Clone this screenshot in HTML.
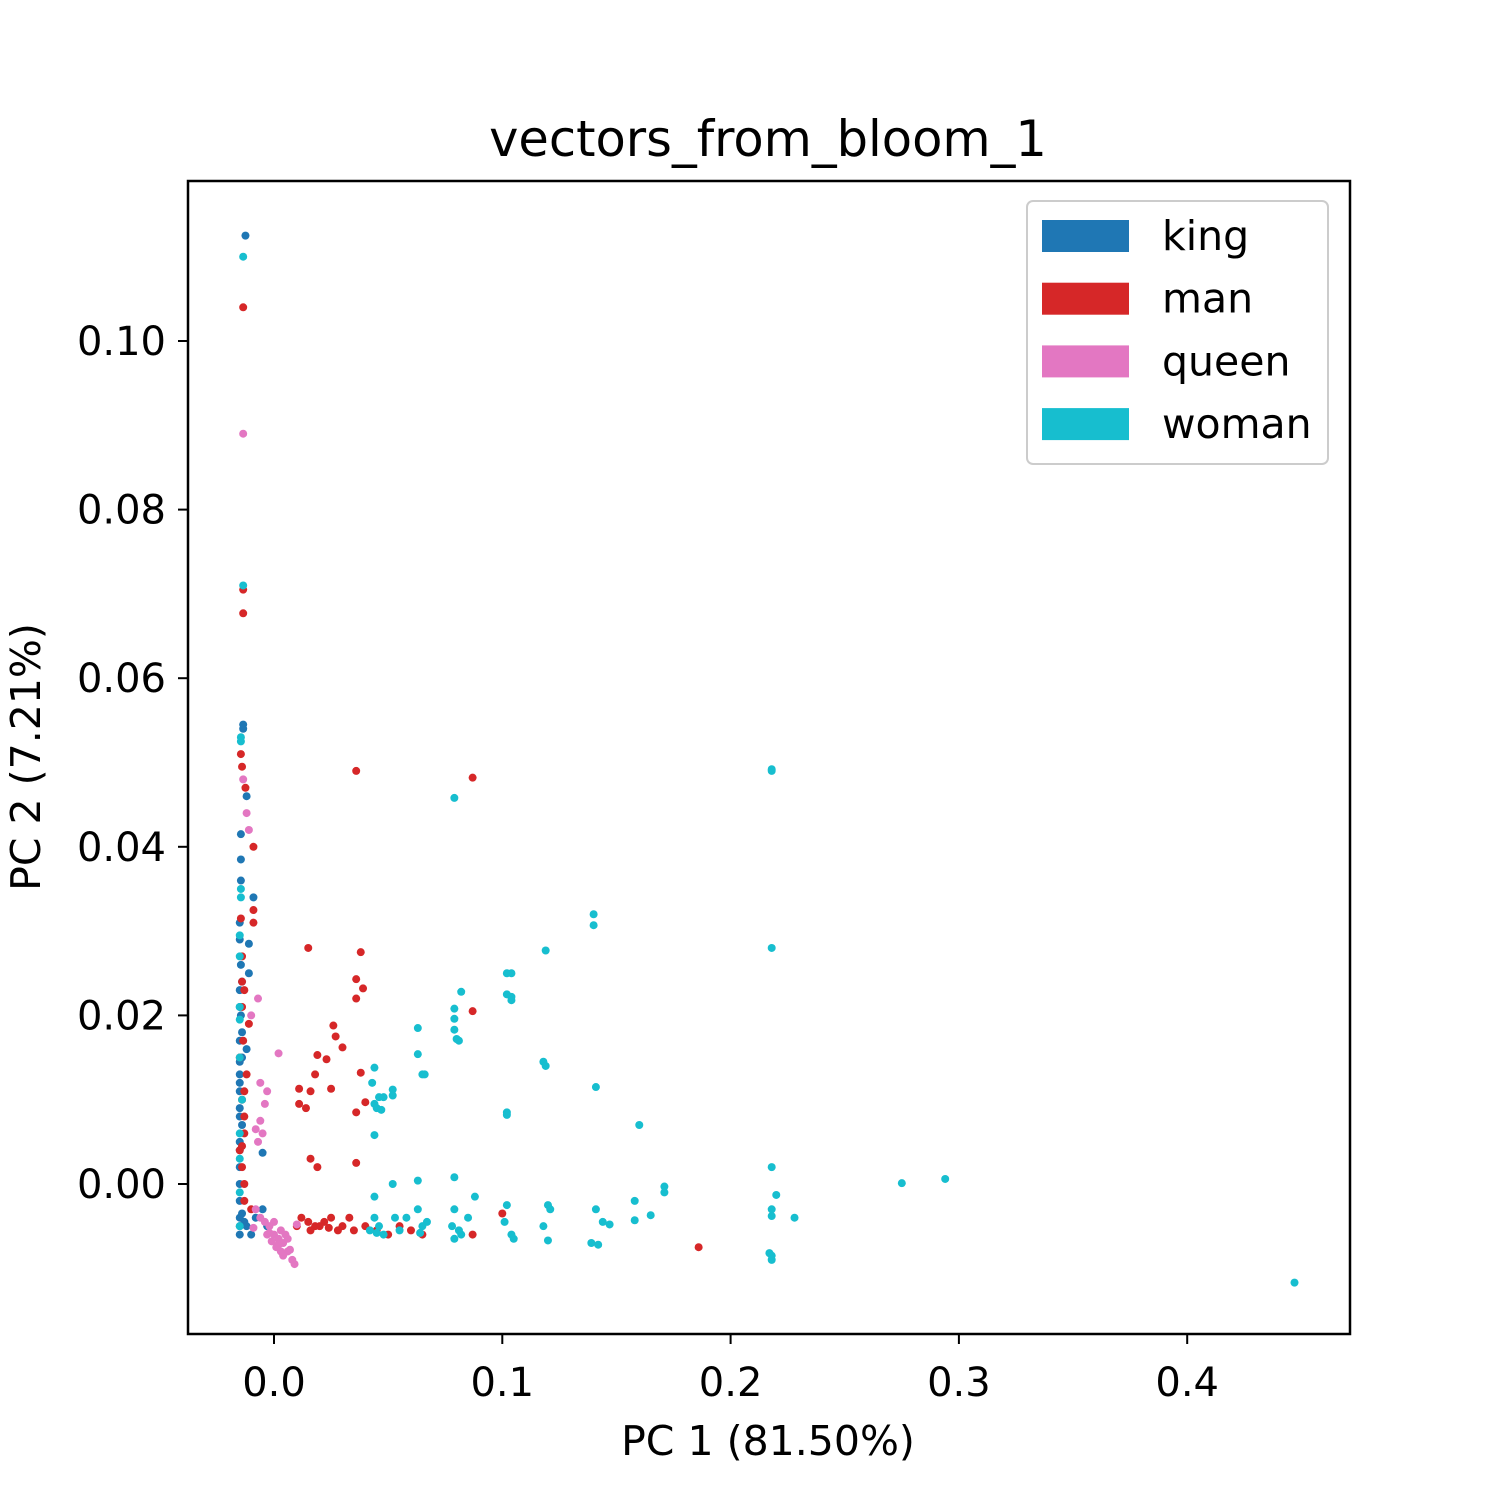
<!DOCTYPE html>
<html><head><meta charset="utf-8">
<style>html,body{margin:0;padding:0;background:#fff}svg{display:block;font-family:"DejaVu Sans","Liberation Sans",sans-serif}</style>
</head><body>
<svg id="chart" width="1500" height="1500" viewBox="0 0 1500 1500">
<rect x="0" y="0" width="1500" height="1500" fill="#fff"/>
<text x="768" y="156" font-size="49.5" text-anchor="middle">vectors_from_bloom_1</text>
<g id="marks"></g>
<rect x="188" y="181" width="1162" height="1153" fill="none" stroke="#000" stroke-width="2.5"/>
<g id="xticks"></g>
<g id="yticks"></g>
<text x="768" y="1455" font-size="41" text-anchor="middle">PC 1 (81.50%)</text>
<text transform="translate(40,757) rotate(-90)" font-size="41" text-anchor="middle">PC 2 (7.21%)</text>
<g>
<rect x="1027" y="201" width="301" height="263" rx="6" fill="#fff" stroke="#ccc" stroke-width="2"/>
<g id="legend-items"></g>
</g>
</svg>
<script>
const seriesNames = ["king","man","queen","woman"];
const seriesColors = ["#1f77b4","#d62728","#e377c2","#17becf"];
const xTicks = [0.0,0.1,0.2,0.3,0.4];
const xTickLabels = ["0.0","0.1","0.2","0.3","0.4"];
const yTicks = [0.00,0.02,0.04,0.06,0.08,0.10];
const yTickLabels = ["0.00","0.02","0.04","0.06","0.08","0.10"];
const kingPts = [[-0.0125,0.1125],[-0.0135,0.0545],[-0.0135,0.054],[-0.012,0.046],[-0.0145,0.0415],[-0.0145,0.0385],[-0.0145,0.036],[-0.009,0.034],[-0.011,0.0285],[-0.0145,0.026],[-0.011,0.025],[-0.015,0.023],[-0.0145,0.02],[-0.015,0.017],[-0.012,0.016],[-0.015,0.013],[-0.015,0.011],[-0.015,0.008],[-0.015,0.005],[-0.015,0.002],[-0.005,0.0037],[-0.015,-0.002],[-0.015,-0.004],[-0.012,-0.005],[-0.008,-0.004],[-0.005,-0.003],[-0.010,-0.006],[-0.015,-0.006],[-0.014,-0.0035],[-0.015,0.029],[-0.014,0.018],[-0.015,0.009],[-0.015,-0.005],[-0.013,-0.0045],[-0.003,-0.005],[-0.015,0.021],[-0.014,0.015],[-0.015,0.012],[-0.014,0.007],[-0.015,0.004],[-0.015,0.000],[-0.014,0.024],[-0.015,0.031],[-0.015,0.0145]];
const manPts = [[-0.0135,0.104],[-0.0135,0.0705],[-0.0135,0.0677],[-0.0145,0.051],[-0.014,0.0495],[-0.0125,0.047],[-0.009,0.040],[-0.0145,0.0315],[-0.009,0.0325],[-0.009,0.031],[-0.014,0.024],[-0.013,0.023],[-0.011,0.019],[-0.0135,0.017],[-0.012,0.013],[-0.014,0.01],[-0.013,0.008],[-0.015,0.004],[-0.014,0.002],[-0.013,0.000],[-0.01,-0.003],[-0.014,0.027],[-0.015,0.015],[-0.013,0.006],[-0.014,0.021],[-0.013,0.011],[-0.014,0.0045],[-0.013,-0.002],[0.01,-0.005],[0.015,-0.0045],[0.02,-0.005],[0.025,-0.004],[0.03,-0.005],[0.035,-0.0055],[0.04,-0.005],[0.05,-0.006],[0.055,-0.005],[0.065,-0.006],[0.087,-0.006],[0.1,-0.0035],[0.186,-0.0075],[0.012,-0.004],[0.018,-0.005],[0.022,-0.0045],[0.028,-0.0055],[0.033,-0.004],[0.045,-0.0055],[0.06,-0.0055],[0.016,-0.0055],[0.024,-0.0052],[0.036,0.049],[0.087,0.0482],[0.015,0.028],[0.038,0.0275],[0.036,0.0243],[0.039,0.0232],[0.036,0.022],[0.087,0.0205],[0.026,0.0188],[0.027,0.0175],[0.03,0.0162],[0.019,0.0153],[0.023,0.0148],[0.018,0.013],[0.011,0.0113],[0.016,0.011],[0.025,0.0113],[0.038,0.0132],[0.040,0.0097],[0.036,0.0085],[0.011,0.0095],[0.014,0.009],[0.016,0.003],[0.019,0.002],[0.036,0.0025]];
const queenPts = [[-0.0135,0.089],[-0.0135,0.048],[-0.012,0.044],[-0.011,0.042],[-0.007,0.022],[-0.01,0.020],[0.002,0.0155],[-0.006,0.012],[-0.003,0.011],[-0.004,0.0095],[-0.006,0.0075],[-0.005,0.006],[-0.007,0.005],[-0.008,0.0065],[-0.008,-0.003],[-0.006,-0.004],[-0.004,-0.0045],[-0.002,-0.005],[0.0,-0.006],[0.002,-0.0065],[0.004,-0.007],[0.006,-0.008],[0.008,-0.009],[0.009,-0.0095],[0.001,-0.0075],[0.003,-0.0055],[0.005,-0.006],[-0.001,-0.0068],[0.007,-0.0078],[-0.003,-0.006],[0.0,-0.0045],[0.004,-0.0085],[0.01,-0.0048],[-0.009,-0.0052],[0.002,-0.0072],[0.006,-0.0065],[-0.002,-0.0058],[0.003,-0.008]];
const womanPts = [[-0.0135,0.110],[-0.0135,0.071],[-0.0145,0.053],[-0.0145,0.0525],[-0.0145,0.035],[-0.0145,0.034],[-0.015,0.0295],[-0.015,0.027],[-0.015,0.021],[-0.015,0.0195],[-0.015,0.015],[-0.015,0.006],[-0.015,-0.001],[-0.015,-0.005],[-0.014,0.010],[-0.015,0.003],[0.218,0.0492],[0.218,0.049],[0.079,0.0458],[0.140,0.032],[0.140,0.0307],[0.119,0.0277],[0.218,0.028],[0.082,0.0228],[0.102,0.025],[0.104,0.025],[0.102,0.0225],[0.104,0.0222],[0.104,0.0218],[0.079,0.0208],[0.079,0.0196],[0.079,0.0183],[0.08,0.0172],[0.081,0.017],[0.063,0.0185],[0.044,0.0138],[0.043,0.012],[0.063,0.0154],[0.065,0.013],[0.066,0.013],[0.052,0.0112],[0.046,0.0103],[0.048,0.0103],[0.044,0.0095],[0.045,0.009],[0.047,0.0088],[0.044,0.0058],[0.052,0.0105],[0.118,0.0145],[0.119,0.014],[0.102,0.0085],[0.102,0.0082],[0.141,0.0115],[0.160,0.007],[0.218,0.002],[0.171,-0.0003],[0.171,-0.001],[0.275,0.0001],[0.294,0.0006],[0.447,-0.0117],[0.220,-0.0013],[0.228,-0.004],[0.218,-0.003],[0.218,-0.0038],[0.217,-0.0082],[0.218,-0.0085],[0.218,-0.009],[0.144,-0.0045],[0.141,-0.003],[0.158,-0.002],[0.165,-0.0037],[0.158,-0.0043],[0.147,-0.0048],[0.139,-0.007],[0.142,-0.0072],[0.12,-0.0025],[0.121,-0.003],[0.118,-0.005],[0.12,-0.0067],[0.102,-0.0025],[0.104,-0.006],[0.105,-0.0065],[0.101,-0.0045],[0.079,0.0008],[0.079,-0.003],[0.078,-0.005],[0.082,-0.006],[0.085,-0.004],[0.088,-0.0015],[0.079,-0.0065],[0.081,-0.0055],[0.063,0.0004],[0.063,-0.003],[0.065,-0.005],[0.067,-0.0045],[0.064,-0.0058],[0.052,0.0000],[0.053,-0.004],[0.055,-0.0055],[0.058,-0.004],[0.044,-0.0015],[0.044,-0.004],[0.046,-0.005],[0.048,-0.006],[0.042,-0.0055],[0.045,-0.0058]];
const allSeries = [kingPts, manPts, queenPts, womanPts];

const NS = "http://www.w3.org/2000/svg";
function xScale(v){ return 274 + v * 2283; }
function yScale(v){ return 1184 - v * 8430; }

const marks = document.getElementById('marks');
allSeries.forEach((pts, si) => {
  const g = document.createElementNS(NS, 'g');
  
  
  pts.forEach(p => {
    const c = document.createElementNS(NS, 'circle');
    c.setAttribute('cx', xScale(p[0]));
    c.setAttribute('cy', yScale(p[1]));
    c.setAttribute('r', 4);
    c.setAttribute('fill', seriesColors[si]);
    
    
    g.appendChild(c);
  });
  marks.appendChild(g);
});

const xg = document.getElementById('xticks');
xTicks.forEach((t, i) => {
  const x = xScale(t);
  const l = document.createElementNS(NS, 'line');
  l.setAttribute('x1', x); l.setAttribute('x2', x);
  l.setAttribute('y1', 1334); l.setAttribute('y2', 1344);
  l.setAttribute('stroke', '#000'); l.setAttribute('stroke-width', 2);
  
  
  xg.appendChild(l);
  const tx = document.createElementNS(NS, 'text');
  tx.setAttribute('x', x); tx.setAttribute('y', 1396);
  tx.setAttribute('font-size', 40); tx.setAttribute('text-anchor', 'middle');
  tx.textContent = xTickLabels[i];
  
  
  xg.appendChild(tx);
});
const yg = document.getElementById('yticks');
yTicks.forEach((t, i) => {
  const y = yScale(t);
  const l = document.createElementNS(NS, 'line');
  l.setAttribute('x1', 178); l.setAttribute('x2', 188);
  l.setAttribute('y1', y); l.setAttribute('y2', y);
  l.setAttribute('stroke', '#000'); l.setAttribute('stroke-width', 2);
  
  
  yg.appendChild(l);
  const tx = document.createElementNS(NS, 'text');
  tx.setAttribute('x', 166); tx.setAttribute('y', y + 14);
  tx.setAttribute('font-size', 40); tx.setAttribute('text-anchor', 'end');
  tx.textContent = yTickLabels[i];
  
  
  yg.appendChild(tx);
});
const lg = document.getElementById('legend-items');
seriesNames.forEach((n, i) => {
  const cy = 236 + i * 62.7;
  const r = document.createElementNS(NS, 'rect');
  r.setAttribute('x', 1042); r.setAttribute('y', cy - 16);
  r.setAttribute('width', 87); r.setAttribute('height', 32);
  r.setAttribute('fill', seriesColors[i]);
  
  
  lg.appendChild(r);
  const t = document.createElementNS(NS, 'text');
  t.setAttribute('x', 1162); t.setAttribute('y', cy + 14);
  t.setAttribute('font-size', 41);
  t.textContent = n;
  
  
  lg.appendChild(t);
});
</script>
</body></html>
